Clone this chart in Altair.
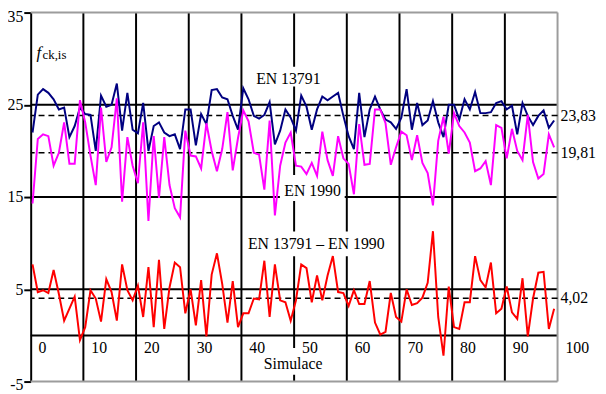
import altair as alt
import pandas as pd

# ---- data ----
en13791 = [22.0, 26.1, 26.7, 26.3, 25.6, 24.5, 24.7, 21.5, 22.7, 24.7,
           24.0, 23.9, 20.0, 26.0, 24.8, 25.0, 27.3, 22.2, 26.3, 22.3,
           21.9, 25.2, 20.0, 22.7, 23.1, 22.0, 21.6, 21.8, 20.2, 24.5,
           24.5, 20.6, 24.0, 22.9, 26.6, 26.7, 25.8, 25.6, 23.8, 22.3,
           26.8, 25.6, 23.8, 23.5, 23.9, 25.3, 20.7, 22.2, 24.5, 23.6,
           22.2, 26.0, 24.8, 22.3, 24.5, 25.9, 25.5, 25.9, 26.3, 23.8,
           21.6, 20.2, 26.3, 21.5, 24.5, 25.9, 24.5, 23.4, 23.1, 22.4,
           23.6, 26.7, 22.3, 25.2, 22.8, 23.3, 25.4, 23.1, 21.5, 25.0,
           25.0, 23.4, 25.6, 24.5, 26.4, 24.1, 24.1, 24.2, 25.2, 25.4,
           24.5, 24.9, 21.8, 25.2, 23.8, 22.8, 23.8, 24.4, 22.5, 23.3]
en1990 = [14.3, 21.3, 21.8, 21.6, 18.4, 19.8, 23.1, 18.6, 18.6, 25.5,
          23.1, 19.5, 16.3, 24.7, 18.8, 20.4, 25.7, 14.5, 21.5, 18.4,
          16.5, 23.1, 12.4, 21.6, 14.9, 21.5, 16.3, 13.8, 12.8, 22.2,
          19.5, 19.4, 18.1, 23.0, 20.0, 17.8, 20.2, 24.2, 17.9, 21.4,
          24.4, 23.2, 19.8, 19.6, 15.8, 23.3, 13.0, 18.4, 20.9, 22.0,
          18.4, 18.3, 17.5, 18.7, 17.3, 22.1, 19.0, 17.3, 21.6, 19.2,
          18.6, 15.3, 22.9, 18.5, 18.6, 24.5, 24.5, 23.0, 18.5, 20.4,
          22.1, 21.7, 19.0, 21.7, 18.7, 17.6, 14.1, 21.1, 23.7, 19.7,
          24.1, 22.7, 22.0, 20.9, 17.8, 18.1, 18.9, 16.3, 22.8, 22.5,
          19.2, 22.4, 20.0, 19.0, 23.9, 18.8, 17.0, 17.5, 21.8, 20.4]
difference = [7.7, 4.7, 4.9, 4.6, 7.1, 4.5, 1.6, 2.9, 4.2, -0.5,
              0.9, 4.9, 4.0, 1.5, 6.1, 4.7, 1.6, 7.7, 4.9, 3.8,
              5.4, 2.0, 7.4, 0.9, 8.2, 0.7, 5.2, 7.9, 7.4, 2.4,
              5.0, 1.1, 6.0, -0.1, 6.6, 8.9, 5.6, 1.4, 5.9, 0.9,
              2.4, 2.4, 4.0, 3.9, 8.1, 2.0, 7.7, 3.8, 3.6, 1.6,
              3.8, 7.7, 7.3, 3.6, 6.5, 3.8, 6.5, 8.6, 4.7, 4.6,
              3.2, 4.9, 3.4, 3.4, 5.9, 1.4, 0.1, 0.4, 4.6, 2.0,
              1.5, 5.0, 3.3, 3.5, 4.1, 5.7, 11.3, 2.0, -2.2, 5.3,
              0.9, 0.7, 3.6, 3.6, 8.6, 6.0, 5.2, 7.9, 2.4, 2.9,
              5.3, 2.5, 1.8, 6.2, -0.1, 4.0, 6.8, 6.9, 0.7, 2.9]
series_names = ["EN 13791", "EN 1990", "EN 13791 – EN 1990"]
series_colors = ["#000080", "#FF00FF", "#FF0000"]
mean_values = [23.83, 19.81, 4.02]
mean_labels = ["23,83", "19,81", "4,02"]
x_tick_values = [0, 10, 20, 30, 40, 50, 60, 70, 80, 90, 100]
x_tick_labels = ["0", "10", "20", "30", "40", "50", "60", "70", "80", "90", "100"]
y_tick_values = [-5, 5, 15, 25, 35]
grid_x = [10, 20, 30, 40, 50, 60, 70, 80, 90]
grid_y = [0, 5, 15, 25]

FONT = "Liberation Serif"
W, H = 534, 374

rows = []
for name, vals in zip(series_names, [en13791, en1990, difference]):
    for i, v in enumerate(vals):
        rows.append({"sim": i + 0.35, "value": v, "series": name})
df = pd.DataFrame(rows)

xs = alt.Scale(domain=[0, 100], nice=False, zero=False)
ys = alt.Scale(domain=[-5, 35], nice=False, zero=False)
yax = alt.Axis(values=y_tick_values, title=None, grid=False, tickSize=7, tickColor="black",
               tickWidth=2, domainColor="black", domainWidth=2, labelFont=FONT,
               labelFontSize=16, labelColor="black", labelPadding=1,
               labelOffset={"condition": [{"test": "datum.value == 35", "value": 4.5},
                                          {"test": "datum.value == -5", "value": 3}],
                            "value": 0},
               labelExpr="datum.value < 0 ? '-' + abs(datum.value) : datum.label")


def Y(field):
    return alt.Y(field, scale=ys, axis=yax)


def X(field):
    return alt.X(field, scale=xs, axis=None)


vgrid = alt.Chart(pd.DataFrame({"x": grid_x})).mark_rule(color="black", strokeWidth=2).encode(
    x=X("x:Q"))
hgrid = alt.Chart(pd.DataFrame({"y": grid_y})).mark_rule(color="black", strokeWidth=2).encode(
    y=Y("y:Q"))
frame_h = alt.Chart(pd.DataFrame({"y": [-5, 35]})).mark_rule(color="#9c9c9c", strokeWidth=2).encode(
    y=Y("y:Q"))
frame_v = alt.Chart(pd.DataFrame({"x": [100]})).mark_rule(color="#9c9c9c", strokeWidth=2).encode(
    x=X("x:Q"))

# white boxes behind the in-plot labels
boxes = pd.DataFrame({
    "x1": [42.5, 47.3, 40.5, 44.0],
    "x2": [55.3, 59.6, 68.2, 55.6],
    "y1": [26.98, 14.57, 8.58, -4.25],
    "y2": [29.12, 17.4, 11.26, -1.36],
})
box_layer = alt.Chart(boxes).mark_rect(color="white").encode(
    x=X("x1:Q"), x2="x2:Q", y=Y("y1:Q"), y2="y2:Q")

means = pd.DataFrame({"v": mean_values, "label": mean_labels})
dash = alt.Chart(means).mark_rule(color="black", strokeWidth=1.5, strokeDash=[6, 4]).encode(
    y=Y("v:Q"))
dash_lbl = alt.Chart(means).mark_text(align="left", baseline="middle", dx=3, font=FONT,
                                       fontSize=16, color="black").encode(
    x=alt.value(W), y=Y("v:Q"), text="label:N")

lines = alt.Chart(df).mark_line(strokeWidth=2).encode(
    x=X("sim:Q"),
    y=Y("value:Q"),
    color=alt.Color("series:N", scale=alt.Scale(domain=series_names, range=series_colors),
                    legend=None),
    order="sim:Q")

xlab = alt.Chart(pd.DataFrame({"x": x_tick_values, "label": x_tick_labels})).mark_text(
    align="left", baseline="middle", font=FONT, fontSize=16, color="black").encode(
    x=X("xp:Q"), y=alt.datum(-1.4), text="label:N").transform_calculate(
    xp="datum.x + 1.5")

ann = pd.DataFrame({
    "x": [48.9, 53.5, 54.2, 49.8],
    "y": [27.8, 15.6, 9.9, -3.1],
    "label": ["EN 13791", "EN 1990", "EN 13791 – EN 1990", "Simulace"],
})
ann_layer = alt.Chart(ann).mark_text(baseline="middle", font=FONT, fontSize=16, color="black").encode(
    x=X("x:Q"), y=Y("y:Q"), text="label:N")

fck = alt.Chart(pd.DataFrame({"x": [1.1], "y": [30.1], "t": ["f"]})).mark_text(
    align="left", baseline="alphabetic", font=FONT, fontSize=17, fontStyle="italic", color="black").encode(
    x=X("x:Q"), y=Y("y:Q"), text="t:N")
fck_sub = alt.Chart(pd.DataFrame({"x": [2.25], "y": [30.0], "t": ["ck,is"]})).mark_text(
    align="left", baseline="alphabetic", font=FONT, fontSize=13, color="black").encode(
    x=X("x:Q"), y=Y("y:Q"), text="t:N")

chart = alt.layer(vgrid, hgrid, frame_h, frame_v, box_layer, dash, lines, dash_lbl, xlab,
                  ann_layer, fck, fck_sub).properties(
    width=W, height=H,
    autosize=alt.AutoSizeParams(type="none"),
    padding={"left": 23, "top": 2, "right": 41, "bottom": 12},
).configure_view(stroke=None)

chart.save("out.html", embed_options={"renderer": "svg", "actions": False})
